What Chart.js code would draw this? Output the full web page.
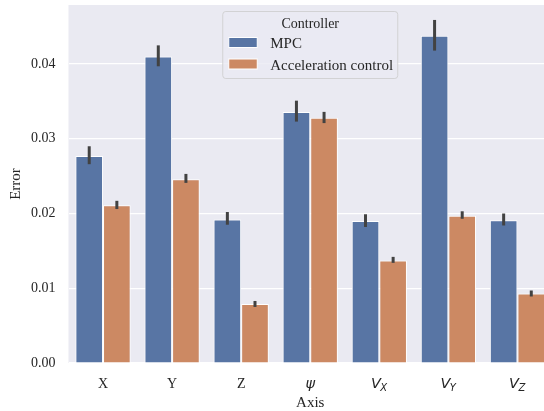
<!DOCTYPE html>
<html>
<head>
<meta charset="utf-8">
<script src="https://cdn.jsdelivr.net/npm/chart.js@4"></script>
<style>
  html, body { margin: 0; padding: 0; background: #fff; overflow: hidden; }
  #wrap { width: 552px; height: 411px; position: relative; }
</style>
</head>
<body>
<div id="wrap"><canvas id="errChart"></canvas></div>
<script>
// данные
const axisLabels = ['X', 'Y', 'Z', 'ψ', 'V_X', 'V_Y', 'V_Z'];
const mpcError   = [0.0277, 0.0410, 0.0192, 0.0336, 0.0190, 0.0438, 0.0191];
const mpcLow     = [0.0266, 0.0397, 0.0185, 0.0323, 0.0182, 0.0418, 0.0184];
const mpcHigh    = [0.0290, 0.0425, 0.0202, 0.0351, 0.0199, 0.0459, 0.0200];
const accError   = [0.0211, 0.0246, 0.0079, 0.0328, 0.0137, 0.0197, 0.0093];
const accLow     = [0.0206, 0.0241, 0.0075, 0.0321, 0.0134, 0.0193, 0.0089];
const accHigh    = [0.0217, 0.0253, 0.0083, 0.0336, 0.0142, 0.0203, 0.0097];
const yTicks     = [0, 0.01, 0.02, 0.03, 0.04];

const SERIF = "'Liberation Serif', 'Times New Roman', serif";
const MATH  = "'DejaVu Sans', sans-serif";
const TEXT  = '#262626';

// фон области графика
const bgPlugin = {
  id: 'plotBg',
  beforeDraw(chart) {
    const { ctx, chartArea: a } = chart;
    ctx.save();
    ctx.fillStyle = '#eaeaf2';
    ctx.fillRect(a.left, a.top, a.right - a.left, a.bottom - a.top);
    ctx.restore();
  }
};

// планки погрешностей
const errPlugin = {
  id: 'errBars',
  afterDatasetsDraw(chart) {
    const { ctx } = chart;
    const y = chart.scales.y;
    ctx.save();
    ctx.strokeStyle = '#424242';
    ctx.lineWidth = 3;
    ctx.lineCap = 'butt';
    chart.data.datasets.forEach((ds, di) => {
      const meta = chart.getDatasetMeta(di);
      meta.data.forEach((bar, i) => {
        ctx.beginPath();
        ctx.moveTo(bar.x, y.getPixelForValue(ds.errLow[i]));
        ctx.lineTo(bar.x, y.getPixelForValue(ds.errHigh[i]));
        ctx.stroke();
      });
    });
    ctx.restore();
  }
};

// подписи по оси X (с индексами)
const xLabelPlugin = {
  id: 'xLabels',
  afterDraw(chart) {
    const { ctx } = chart;
    const xs = chart.scales.x;
    const base = 388;
    ctx.save();
    ctx.fillStyle = TEXT;
    ctx.textBaseline = 'alphabetic';
    ctx.textAlign = 'left';
    chart.data.labels.forEach((lab, i) => {
      const cx = xs.getPixelForTick(i);
      if (lab.includes('_')) {
        const [main, sub] = lab.split('_');
        ctx.font = 'italic 14.5px ' + MATH;
        const w1 = ctx.measureText(main).width;
        ctx.font = 'italic 10px ' + MATH;
        const w2 = ctx.measureText(sub).width;
        const x0 = cx - (w1 + w2) / 2;
        ctx.font = 'italic 14.5px ' + MATH;
        ctx.fillText(main, x0, base);
        ctx.font = 'italic 10px ' + MATH;
        ctx.fillText(sub, x0 + w1 - 0.5, base + 2.5);
      } else if (lab === 'ψ') {
        ctx.font = 'italic 14.5px ' + MATH;
        const w = ctx.measureText(lab).width;
        ctx.fillText(lab, cx - w / 2, base);
      } else {
        ctx.font = '14px ' + SERIF;
        const w = ctx.measureText(lab).width;
        ctx.fillText(lab, cx - w / 2, base);
      }
    });
    ctx.restore();
  }
};

// легенда внутри области графика
const legendPlugin = {
  id: 'innerLegend',
  afterDraw(chart) {
    const { ctx, chartArea: a } = chart;
    const cx = (a.left + a.right) / 2;
    const w = 175, h = 67;
    const left = cx - w / 2, top = 11.5;
    ctx.save();
    ctx.beginPath();
    ctx.roundRect(left, top, w, h, 3);
    ctx.fillStyle = 'rgba(234,234,242,0.8)';
    ctx.fill();
    ctx.strokeStyle = 'rgba(204,204,204,0.8)';
    ctx.lineWidth = 1;
    ctx.stroke();

    ctx.fillStyle = TEXT;
    ctx.font = '14px ' + SERIF;
    ctx.textAlign = 'center';
    ctx.textBaseline = 'alphabetic';
    ctx.fillText('Controller', cx, 27.5);

    ctx.textAlign = 'left';
    ctx.font = '15px ' + SERIF;
    chart.data.datasets.forEach((ds, i) => {
      const py = 37.5 + i * 21.5;
      ctx.fillStyle = ds.backgroundColor;
      ctx.fillRect(left + 6, py, 28.5, 10);
      ctx.strokeStyle = '#fff';
      ctx.lineWidth = 1;
      ctx.strokeRect(left + 6, py, 28.5, 10);
      ctx.fillStyle = TEXT;
      ctx.fillText(ds.label, left + 47.5, py + 10.5);
    });
    ctx.restore();
  }
};

const ctx = document.getElementById('errChart').getContext('2d');
new Chart(ctx, {
  type: 'bar',
  data: {
    labels: axisLabels,
    datasets: [
      { label: 'MPC', data: mpcError, errLow: mpcLow, errHigh: mpcHigh,
        backgroundColor: '#5875a4', borderColor: '#ffffff', borderWidth: 1 },
      { label: 'Acceleration control', data: accError, errLow: accLow, errHigh: accHigh,
        backgroundColor: '#cc8963', borderColor: '#ffffff', borderWidth: 1 }
    ]
  },
  options: {
    responsive: true,
    maintainAspectRatio: false,
    animation: false,
    devicePixelRatio: 1,
    layout: { padding: { top: 5, right: 0, bottom: 0, left: 0 } },
    datasets: { bar: { categoryPercentage: 0.8, barPercentage: 1.0 } },
    plugins: { legend: { display: false }, tooltip: { enabled: false } },
    scales: {
      x: {
        grid: { display: false, drawTicks: false },
        border: { display: false },
        ticks: { display: true, color: 'rgba(0,0,0,0)', font: { family: SERIF, size: 14 } },
        title: { display: true, text: 'Axis', color: TEXT,
                 font: { family: SERIF, size: 15, lineHeight: 1 }, padding: { top: 0, bottom: 0 } },
        afterFit(scale) {
          scale.height = 48;
          scale.paddingLeft = 0; scale.paddingRight = 0;
        }
      },
      y: {
        min: 0,
        max: 0.0479,
        grid: { color: '#ffffff', lineWidth: 1.2, drawTicks: false },
        border: { display: false },
        afterBuildTicks(scale) { scale.ticks = yTicks.map(v => ({ value: v })); },
        ticks: {
          padding: 13,
          color: TEXT,
          font: { family: SERIF, size: 14 },
          callback: v => Number(v).toFixed(2)
        },
        title: { display: true, text: 'Error', color: TEXT,
                 font: { family: SERIF, size: 15, lineHeight: 1 }, padding: { top: 9, bottom: 0 } },
        afterFit(scale) {
          scale.width = 68.5;
          scale.paddingTop = 0; scale.paddingBottom = 0;
        }
      }
    }
  },
  plugins: [bgPlugin, errPlugin, xLabelPlugin, legendPlugin]
});
</script>
</body>
</html>
